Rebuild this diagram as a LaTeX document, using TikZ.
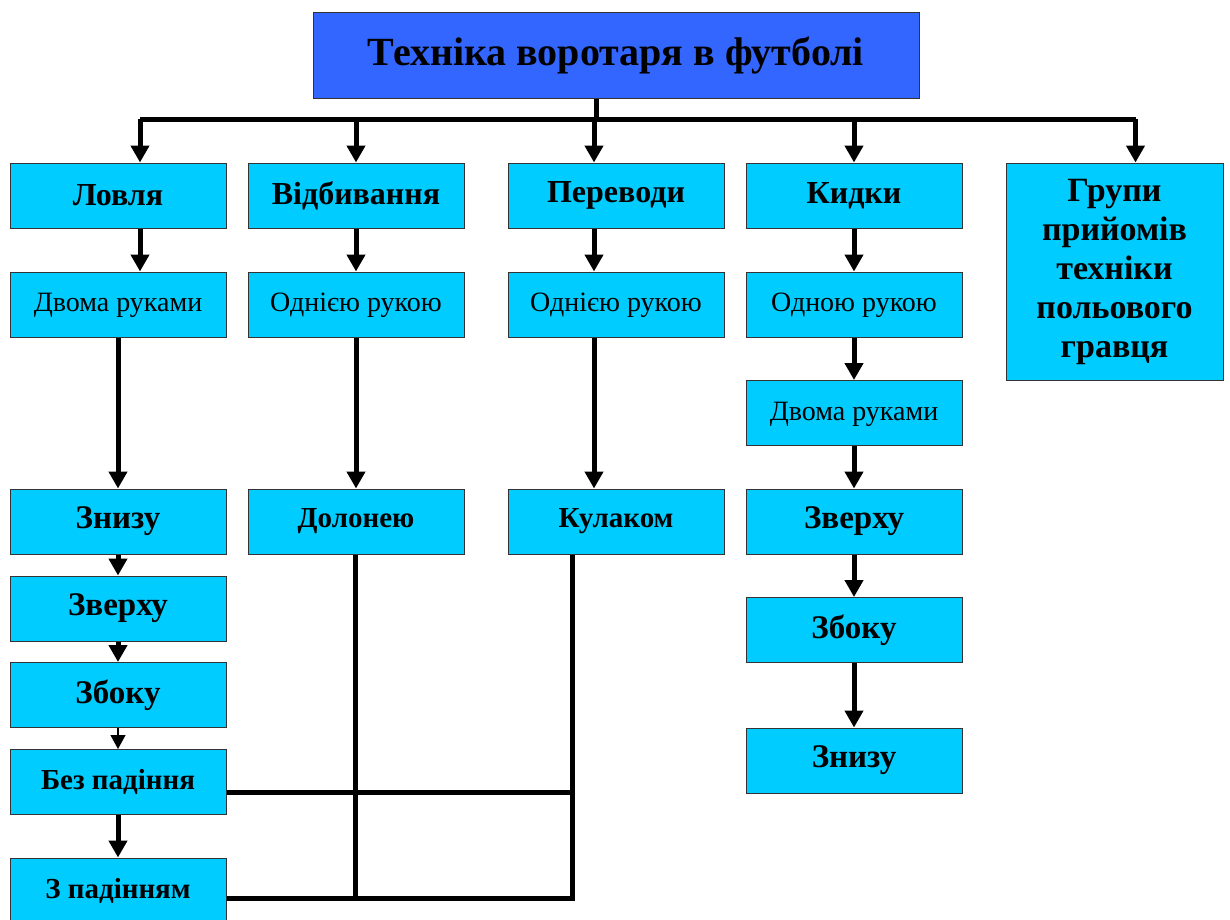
\documentclass[tikz,border=0pt]{standalone}
\usepackage{fontspec}
\setmainfont{Liberation Serif}
\usetikzlibrary{arrows.meta}
\definecolor{titleblue}{HTML}{3366FF}
\definecolor{boxcyan}{HTML}{00CCFF}
\definecolor{edge}{HTML}{333333}
\tikzset{
  box/.style={draw=edge, line width=1pt, fill=boxcyan, minimum width=216pt, minimum height=65pt, inner sep=0pt, align=center},
  bhead/.style={box, font=\fontsize{32}{36}\selectfont\bfseries},
  bbig/.style={box, font=\fontsize{33}{37}\selectfont\bfseries},
  bsm/.style={box, font=\fontsize{29}{33}\selectfont\bfseries},
  br/.style={box, font=\fontsize{28}{32}\selectfont, text depth=4pt},
  conn/.style={line width=5pt},
  arr/.style={line width=5pt, -{Triangle[length=17pt,width=18pt]}},
  thinarr/.style={line width=1.2pt, -{Triangle[length=14pt,width=15pt]}}
}
\begin{document}
\begin{tikzpicture}[x=1pt,y=-1pt]
\useasboundingbox (0,0) rectangle (1230,919);
\clip (0,0) rectangle (1230,919);
% title
\node[draw=edge, line width=1pt, fill=titleblue, minimum width=606pt, minimum height=86pt, inner sep=0pt,
      font=\fontsize{40}{44}\selectfont\bfseries] (title) at (616,55) {Техніка воротаря в футболі};
% row 1
\node[bhead] (lov) at (118,195.5) {Ловля};
\node[bhead] (vid) at (356,195.5) {Відбивання};
\node[bhead] (per) at (616,195.5) {Переводи};
\node[bhead] (kid) at (854,195.5) {Кидки};
\node[box, minimum width=217pt, minimum height=217pt, font=\fontsize{34}{39}\selectfont\bfseries] (gr) at (1114.5,271.5) {Групи\\прийомів\\техніки\\польового\\гравця};
% row 2
\node[br] (lov2) at (118,304.5) {Двома руками};
\node[br] (vid2) at (356,304.5) {Однією рукою};
\node[br] (per2) at (616,304.5) {Однією рукою};
\node[br] (kid2) at (854,304.5) {Одною рукою};
% Кидки column
\node[br] (kid3) at (854,413) {Двома руками};
\node[bbig] (kid4) at (854,521.5) {Зверху};
\node[bbig] (kid5) at (854,630) {Збоку};
\node[bbig] (kid6) at (854,760.5) {Знизу};
% Відбивання, Переводи
\node[bsm] (vid3) at (356,521.5) {Долонею};
\node[bsm] (per3) at (616,521.5) {Кулаком};
% Ловля column
\node[bbig] (lov3) at (118,521.5) {Знизу};
\node[bbig] (lov4) at (118,608.5) {Зверху};
\node[bbig] (lov5) at (118,695) {Збоку};
\node[bsm] (lov6) at (118,782) {Без падіння};
\node[bsm] (lov7) at (118,890.5) {З падінням};
% bus
\coordinate (bus) at (596,119);
\draw[conn] (title.south -| bus) -- (bus);
\draw[conn] ([xshift=22pt]lov.north |- bus) -- ([xshift=21pt]gr.north |- bus);
\draw[arr] ([xshift=22pt]lov.north |- bus) -- ([xshift=22pt]lov.north);
\draw[arr] (vid.north |- bus) -- (vid.north);
\draw[arr] ([xshift=-22pt]per.north |- bus) -- ([xshift=-22pt]per.north);
\draw[arr] (kid.north |- bus) -- (kid.north);
\draw[arr] ([xshift=21pt]gr.north |- bus) -- ([xshift=21pt]gr.north);
% Ловля chain
\draw[arr] ([xshift=22pt]lov.south) -- ([xshift=22pt]lov2.north);
\draw[arr] (lov2.south) -- (lov3.north);
\draw[arr] (lov3.south) -- (lov4.north);
\draw[arr] (lov4.south) -- (lov5.north);
\draw[thinarr] (lov5.south) -- (lov6.north);
\draw[arr] (lov6.south) -- (lov7.north);
% Відбивання chain
\draw[arr] (vid.south) -- (vid2.north);
\draw[arr] (vid2.south) -- (vid3.north);
% Переводи chain
\draw[arr] ([xshift=-22pt]per.south) -- ([xshift=-22pt]per2.north);
\draw[arr] ([xshift=-22pt]per2.south) -- ([xshift=-22pt]per3.north);
% Кидки chain
\draw[arr] (kid.south) -- (kid2.north);
\draw[arr] (kid2.south) -- (kid3.north);
\draw[arr] (kid3.south) -- (kid4.north);
\draw[arr] (kid4.south) -- (kid5.north);
\draw[arr] (kid5.south) -- (kid6.north);
% links to bottom
\coordinate (j1) at (572,792);
\coordinate (j2) at (572,898);
\draw[conn] ([xshift=-1pt]vid3.south) -- ([xshift=-1pt]vid3.south |- j2);
\draw[conn] ([xshift=-44pt]per3.south) -- (j2);
\draw[conn] (lov6.east |- j1) -- (j1);
\draw[conn] (lov7.east |- j2) -- ([xshift=2.5pt]j2);
\end{tikzpicture}
\end{document}
